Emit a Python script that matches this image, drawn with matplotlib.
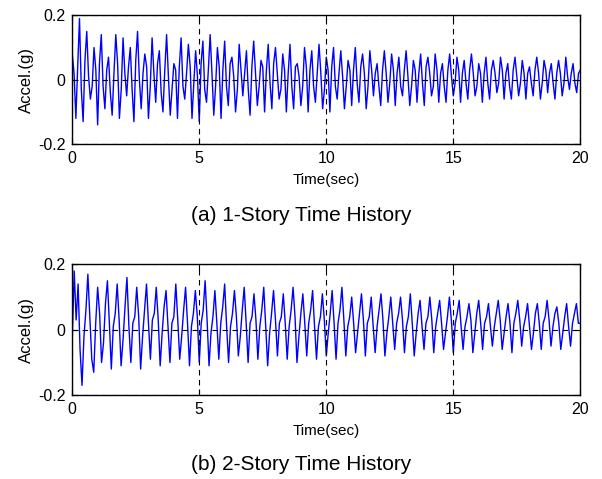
import numpy as np
import matplotlib
matplotlib.use("Agg")
import matplotlib.pyplot as plt

# acceleration (g)
# (a) 1-story: 14 samples per second, one row per cycle
accel_1story = [
    0.08, 0.02, -0.12, 0.04,
    0.19, -0.03, -0.13, 0.06,
    0.15, 0.01, -0.06, -0.02,
    0.10, 0.03, -0.14, 0.05,
    0.14, -0.02, -0.09, 0.03,
    0.07, -0.04, -0.11, 0.02,
    0.14, 0.05, -0.12, -0.03,
    0.13, 0.02, -0.05, 0.04,
    0.10, -0.03, -0.13, 0.06,
    0.15, 0.00, -0.09, 0.02,
    0.08, 0.04, -0.12, -0.02,
    0.13, 0.02, -0.07, 0.05,
    0.09, -0.04, -0.10, 0.03,
    0.14, 0.01, -0.11, -0.03,
    0.05, 0.03, -0.12, 0.04,
    0.13, -0.02, -0.06, 0.02,
    0.11, 0.04, -0.12, -0.01,
    0.09, 0.01, -0.13, 0.05,
    0.12, -0.03, -0.07, 0.03,
    0.14, 0.02, -0.11, -0.02,
    0.10, 0.04, -0.12, 0.03,
    0.12, -0.02, -0.08, 0.05,
    0.07, 0.01, -0.10, -0.03,
    0.11, 0.03, -0.05, 0.02,
    0.09, -0.03, -0.11, 0.04,
    0.12, 0.02, -0.08, -0.02,
    0.06, 0.04, -0.10, 0.03,
    0.11, -0.01, -0.09, 0.05,
    0.10, 0.02, -0.06, -0.03,
    0.08, 0.03, -0.10, 0.02,
    0.11, -0.02, -0.09, 0.04,
    0.05, 0.01, -0.08, -0.02,
    0.10, 0.04, -0.10, 0.03,
    0.09, -0.02, -0.07, 0.02,
    0.11, 0.02, -0.09, -0.03,
    0.07, 0.03, -0.10, 0.04,
    0.10, -0.02, -0.06, 0.02,
    0.09, 0.01, -0.09, -0.02,
    0.06, 0.03, -0.08, 0.03,
    0.10, -0.01, -0.07, 0.04,
    0.08, 0.02, -0.09, -0.02,
    0.09, 0.03, -0.05, 0.02,
    0.05, -0.02, -0.08, 0.03,
    0.09, 0.02, -0.07, -0.01,
    0.08, 0.03, -0.08, 0.02,
    0.07, -0.02, -0.05, 0.03,
    0.09, 0.01, -0.08, -0.02,
    0.06, 0.03, -0.07, 0.02,
    0.08, -0.01, -0.08, 0.04,
    0.07, 0.02, -0.05, -0.02,
    0.08, 0.03, -0.07, 0.02,
    0.05, -0.02, -0.07, 0.03,
    0.08, 0.01, -0.05, -0.01,
    0.07, 0.03, -0.07, 0.02,
    0.06, -0.01, -0.06, 0.03,
    0.08, 0.02, -0.05, -0.02,
    0.05, 0.02, -0.07, 0.02,
    0.07, -0.01, -0.06, 0.03,
    0.06, 0.02, -0.04, -0.01,
    0.07, 0.03, -0.06, 0.02,
    0.05, -0.02, -0.06, 0.03,
    0.07, 0.01, -0.05, -0.01,
    0.06, 0.02, -0.06, 0.02,
    0.04, -0.01, -0.05, 0.03,
    0.07, 0.02, -0.06, -0.01,
    0.06, 0.03, -0.04, 0.02,
    0.05, -0.01, -0.06, 0.02,
    0.06, 0.02, -0.05, -0.01,
    0.07, 0.01, -0.03, 0.02,
    0.05, -0.01, -0.04, 0.02,
    0.03,
]

# (b) 2-story: 13 samples per second, one row per cycle
accel_2story = [
    -0.03, 0.18, 0.03, 0.14, -0.06,
    -0.17, -0.02, 0.06, 0.17, 0.04,
    -0.09, -0.13, 0.02, 0.13, 0.05,
    -0.10, -0.04, 0.08, 0.15, 0.02,
    -0.12, 0.01, 0.05, 0.14, 0.03,
    -0.11, -0.03, 0.07, 0.16, 0.01,
    -0.10, 0.02, 0.04, 0.13, 0.04,
    -0.12, -0.02, 0.06, 0.14, 0.02,
    -0.09, 0.03, 0.05, 0.13, 0.03,
    -0.11, -0.01, 0.07, 0.12, 0.01,
    -0.10, 0.02, 0.04, 0.14, 0.03,
    -0.09, -0.02, 0.06, 0.13, 0.02,
    -0.11, 0.01, 0.05, 0.12, 0.04,
    -0.10, 0.02, 0.06, 0.15, 0.03,
    -0.11, -0.01, 0.04, 0.12, 0.02,
    -0.09, 0.02, 0.07, 0.14, 0.01,
    -0.10, 0.01, 0.05, 0.12, 0.04,
    -0.08, -0.02, 0.06, 0.13, 0.02,
    -0.10, 0.02, 0.04, 0.11, 0.03,
    -0.09, 0.01, 0.06, 0.13, 0.01,
    -0.11, -0.01, 0.05, 0.12, 0.03,
    -0.08, 0.02, 0.04, 0.11, 0.02,
    -0.09, 0.01, 0.06, 0.13, 0.04,
    -0.10, -0.02, 0.05, 0.11, 0.02,
    -0.08, 0.02, 0.06, 0.12, 0.01,
    -0.09, 0.01, 0.04, 0.11, 0.03,
    -0.08, -0.01, 0.05, 0.12, 0.02,
    -0.09, 0.02, 0.06, 0.13, 0.03,
    -0.08, 0.01, 0.04, 0.10, 0.02,
    -0.07, -0.01, 0.05, 0.11, 0.03,
    -0.08, 0.02, 0.04, 0.10, 0.01,
    -0.07, 0.01, 0.06, 0.11, 0.03,
    -0.08, -0.01, 0.04, 0.10, 0.02,
    -0.06, 0.02, 0.05, 0.10, 0.03,
    -0.07, 0.01, 0.04, 0.11, 0.02,
    -0.08, -0.01, 0.05, 0.09, 0.01,
    -0.06, 0.02, 0.04, 0.10, 0.03,
    -0.07, 0.01, 0.05, 0.09, 0.02,
    -0.06, -0.01, 0.04, 0.10, 0.03,
    -0.07, 0.02, 0.05, 0.09, 0.01,
    -0.06, 0.01, 0.04, 0.08, 0.03,
    -0.07, -0.01, 0.05, 0.09, 0.02,
    -0.06, 0.02, 0.04, 0.08, 0.01,
    -0.05, 0.01, 0.05, 0.09, 0.03,
    -0.06, -0.01, 0.04, 0.08, 0.02,
    -0.07, 0.02, 0.05, 0.09, 0.03,
    -0.05, 0.01, 0.04, 0.08, 0.01,
    -0.06, -0.01, 0.05, 0.08, 0.02,
    -0.06, 0.02, 0.04, 0.09, 0.03,
    -0.05, 0.01, 0.05, 0.07, 0.02,
    -0.06, -0.01, 0.04, 0.08, 0.01,
    -0.05, 0.02, 0.05, 0.08, 0.02,
    0.02,
]

x_ticks = [0, 5, 10, 15, 20]
y_ticks = [-0.2, 0, 0.2]
y_ticklabels = ["-0.2", "0", "0.2"]
captions = ["(a) 1-Story Time History", "(b) 2-Story Time History"]

plt.rcParams['font.family'] = ['Liberation Sans', 'DejaVu Sans']

fig = plt.figure(figsize=(6.02, 4.79), dpi=100)
ax_pos = [[0.120, 0.699, 0.844, 0.269],
          [0.120, 0.175, 0.844, 0.273]]
cap_y = [0.539, 0.019]

for k, data in enumerate([accel_1story, accel_2story]):
    y = np.array(data)
    t = np.linspace(0, 20, y.size)
    ax = fig.add_axes(ax_pos[k])
    ax.plot(t, y, color='#0000ff', lw=1.0)
    ax.set_xlim(0, 20)
    ax.set_ylim(-0.2, 0.2)
    ax.set_xticks(x_ticks)
    ax.set_yticks(y_ticks)
    ax.set_yticklabels(y_ticklabels)
    ax.grid(True, color='black', linestyle=(0, (5, 4)), linewidth=0.8)
    ax.set_axisbelow(False)
    ax.tick_params(direction='in', top=True, right=True, labelsize=11.5,
                   length=4, pad=5)
    for s in ax.spines.values():
        s.set_linewidth(1.0)
    ax.set_ylabel('Accel.(g)', fontsize=12, labelpad=3)
    ax.set_xlabel('Time(sec)', fontsize=11, labelpad=5)
    fig.text(0.5, cap_y[k], captions[k], ha='center', fontsize=15)

fig.savefig('out.png', dpi=100)
